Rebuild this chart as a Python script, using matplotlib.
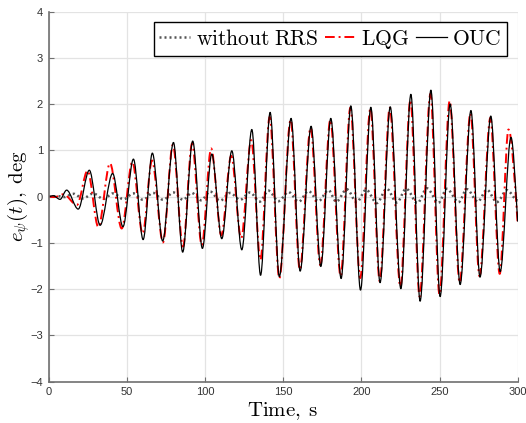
import matplotlib
matplotlib.use("Agg")
import matplotlib.pyplot as plt
from matplotlib.path import Path
from matplotlib.patches import PathPatch
from matplotlib.lines import Line2D

# ---- data: extrema (time, value) ----
ouc_t = [0, 3, 7.4, 11.6, 19, 26.1, 33, 41, 47.6, 54.3, 60.5, 66.4, 73, 79.9, 85.8,
         92.2, 98.4, 104.4, 110.8, 117.2, 123.6, 130, 135.6, 141.7, 147.6, 155.1,
         160.9, 167.9, 174.1, 180.5, 187.1, 193.3, 199.5, 206.1, 212, 218.5, 225.3,
         231.7, 237.6, 244.5, 250.4, 256.8, 263.2, 270.1, 275.9, 282.8, 288.8,
         295.7, 300]
ouc_y = [0, 0.02, -0.06, 0.14, -0.27, 0.57, -0.62, 0.50, -0.65, 0.81, -0.93, 0.94,
         -0.96, 1.17, -1.20, 1.20, -1.12, 0.92, -0.91, 0.99, -1.15, 1.45, -1.70,
         1.82, -1.73, 1.69, -1.61, 1.52, -1.51, 1.69, -1.77, 1.96, -2.02, 1.93,
         -1.86, 1.94, -1.99, 2.21, -2.26, 2.30, -2.16, 2.00, -1.90, 1.86, -1.74,
         1.74, -1.62, 1.28, -0.54]

lqg_t = [0, 4, 9.5, 18.2, 25, 31.9, 39.3, 46.8, 53.6, 60.2, 66.2, 73.2, 79.5, 86,
         91.8, 98, 104, 110.5, 116.8, 123.2, 129.6, 135.5, 141.4, 147.6, 154.8,
         160.7, 167.6, 173.8, 180.2, 186.8, 193, 199.3, 205.8, 211.8, 218.2, 225,
         231.4, 237.3, 244.2, 250, 256.5, 262.9, 269.8, 275.6, 282.5, 288.5,
         294.1, 300]
lqg_y = [0, -0.01, 0.05, -0.18, 0.56, -0.66, 0.72, -0.69, 0.75, -0.80, 0.78,
         -0.99, 1.12, -1.08, 1.15, -1.05, 1.04, -0.84, 0.88, -0.90, 1.22, -1.37,
         1.72, -1.77, 1.66, -1.58, 1.49, -1.48, 1.66, -1.72, 1.92, -1.76, 1.90,
         -1.83, 1.92, -1.95, 2.09, -2.16, 2.22, -2.12, 2.07, -1.86, 1.80, -1.72,
         1.70, -1.67, 1.45, -0.60]

rrs_t = [0, 6, 10, 16, 22, 28.7, 35, 41.5, 48, 54.3, 60.5, 66.8, 73.4, 79.9, 86,
         91.6, 97.6, 103.3, 109.7, 116.1, 122.5, 128.9, 135, 140.6, 147, 153.4,
         160, 166.2, 172.6, 179, 184, 190.7, 197.1, 203.1, 209.9, 216.3, 222.7,
         228.7, 235.9, 241.9, 249.4, 254.7, 262.2, 267.5, 274.5, 280.3, 286.7,
         293.1, 300]
rrs_y = [0, 0.01, -0.01, 0.06, -0.04, 0.07, -0.05, 0.07, -0.06, 0.07, -0.07,
         0.08, -0.07, 0.09, -0.07, 0.08, -0.08, 0.11, -0.09, 0.08, -0.07, 0.09,
         -0.11, 0.13, -0.10, 0.10, -0.11, 0.12, -0.10, 0.14, -0.11, 0.16, -0.12,
         0.15, -0.14, 0.17, -0.13, 0.17, -0.14, 0.18, -0.13, 0.17, -0.12, 0.16,
         -0.11, 0.15, -0.12, 0.14, -0.08]

x_ticks = [0, 50, 100, 150, 200, 250, 300]
y_ticks = [-4, -3, -2, -1, 0, 1, 2, 3, 4]
labels = ["without RRS", "LQG", "OUC"]


def smooth_path(ts, ys, end_slope=0.0):
    verts = [(ts[0], ys[0])]
    codes = [Path.MOVETO]
    n = len(ts)
    for i in range(n - 1):
        t0, y0, t1, y1 = ts[i], ys[i], ts[i + 1], ys[i + 1]
        dt = t1 - t0
        y1c = y1
        if i == n - 2:
            y1c = y1 - end_slope * dt / 3
        verts += [(t0 + dt / 3, y0), (t1 - dt / 3, y1c), (t1, y1)]
        codes += [Path.CURVE4] * 3
    return Path(verts, codes)


plt.rcParams['mathtext.fontset'] = 'cm'
plt.rcParams['font.family'] = ['Liberation Sans', 'DejaVu Sans']

fig = plt.figure(figsize=(5.26, 4.23), dpi=100)
ax = fig.add_axes([48.5 / 526, 41.3 / 423, (517.7 - 48.5) / 526, (411.5 - 41.3) / 423])

styles = [
    dict(color='#555555', linestyle=(0, (0.8, 1.2)), linewidth=1.8),
    dict(color='#ff0000', linestyle=(0, (5, 2, 1, 2)), linewidth=1.4),
    dict(color='black', linestyle='-', linewidth=0.9),
]
series = [(rrs_t, rrs_y, 0.0), (lqg_t, lqg_y, -0.5), (ouc_t, ouc_y, -0.5)]
handles = []
for (ts, ys, es), st, lab in zip(series, styles, labels):
    p = PathPatch(smooth_path(ts, ys, es), fill=False, transform=ax.transData,
                  capstyle='butt', joinstyle='round', **st)
    ax.add_patch(p)
    handles.append(Line2D([], [], label='$\\mathrm{' + lab.replace(' ', '\\;') + '}$', **st))

ax.set_xlim(0, 300)
ax.set_ylim(-4, 4)
ax.set_xticks(x_ticks)
ax.set_yticks(y_ticks)
ax.grid(True, color='#e3e3e3', linewidth=0.9)
ax.set_axisbelow(True)
for s in ['top', 'right']:
    ax.spines[s].set_visible(False)
for s in ['left', 'bottom']:
    ax.spines[s].set_color('#707070')
    ax.spines[s].set_linewidth(1.2)
ax.tick_params(direction='in', length=3.5, width=0.8, color='#707070',
               labelsize=8, labelcolor='#333333', pad=4)

ax.set_xlabel(r"$\mathrm{Time,\;s}$", fontsize=15, labelpad=2)
ax.set_ylabel(r"$e_{\psi}(t),\;\mathrm{deg}$", fontsize=15)
ax.yaxis.set_label_coords(-0.035, 0.5)

leg = ax.legend(handles=handles, loc='upper right', ncol=3,
                prop={'size': 15.5},
                handlelength=1.45, handletextpad=0.25, columnspacing=0.3,
                borderpad=0.25, borderaxespad=0.5, fancybox=False, framealpha=1,
                edgecolor='black')
leg.get_frame().set_linewidth(1.0)

fig.savefig('out.png', dpi=100)
